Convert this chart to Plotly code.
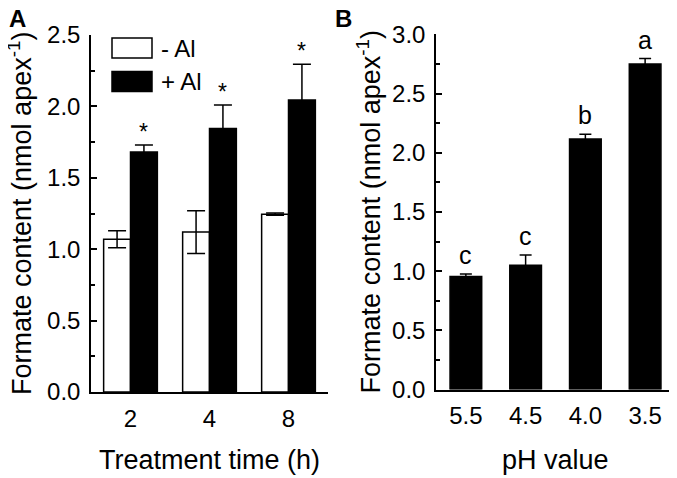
import plotly.graph_objects as go

# Panel A data
times = ["2", "4", "8"]
minus_al = [1.07, 1.12, 1.245]
minus_al_err = [0.06, 0.15, 0.008]
plus_al = [1.68, 1.845, 2.045]
plus_al_err = [0.05, 0.165, 0.25]
stars = ["*", "*", "*"]

# Panel B data
ph = ["5.5", "4.5", "4.0", "3.5"]
ph_vals = [0.955, 1.05, 2.115, 2.75]
ph_err = [0.02, 0.085, 0.04, 0.045]
letters = ["c", "c", "b", "a"]

ytitle = "Formate content (nmol apex<sup>-1</sup>)"
xtitle_a = "Treatment time (h)"
xtitle_b = "pH value"

FONT = "Arial, Liberation Sans, sans-serif"
PAGE_OFF = 8            # default body margin of the html page
W, H = 677 - PAGE_OFF, 478 - PAGE_OFF
BARGAP_A = 0.32
BARGAP_B = 0.47

# pixel layout of the two panels (screen coordinates)
A_L, A_R, A_T, A_B = 91, 328, 35, 392
B_L, B_R, B_T, B_B = 436, 675, 34.3, 389.5


def px(xs):
    return (xs - PAGE_OFF) / W


def py(ys):
    return 1 - (ys - PAGE_OFF) / H


fig = go.Figure()

fig.add_trace(go.Bar(
    x=times, y=minus_al, name="- Al", xaxis="x", yaxis="y",
    marker=dict(color="white", line=dict(color="black", width=1.5)),
    error_y=dict(type="data", array=minus_al_err, color="black", thickness=1.5, width=9),
    showlegend=False,
))
fig.add_trace(go.Bar(
    x=times, y=plus_al, name="+ Al", xaxis="x", yaxis="y",
    marker=dict(color="black", line=dict(color="black", width=1.5)),
    error_y=dict(type="data", array=plus_al_err, color="black", thickness=1.5, width=9),
    showlegend=False,
))
fig.add_trace(go.Bar(
    x=ph, y=ph_vals, xaxis="x2", yaxis="y2",
    marker=dict(color="black", line=dict(color="black", width=1.5)),
    error_y=dict(type="data", array=ph_err, color="black", thickness=1.5, width=6),
    showlegend=False, width=1 - BARGAP_B,
))

annotations = []
off = (1 - BARGAP_A) / 4
for i, (v, e, s) in enumerate(zip(plus_al, plus_al_err, stars)):
    annotations.append(dict(x=i + off, y=v + e, xref="x", yref="y", text=s,
                            showarrow=False, yanchor="bottom", yshift=-2,
                            font=dict(family=FONT, size=23, color="black")))
for i, (v, e, s) in enumerate(zip(ph_vals, ph_err, letters)):
    annotations.append(dict(x=i, y=v + e, xref="x2", yref="y2", text=s,
                            showarrow=False, yanchor="bottom", yshift=3,
                            font=dict(family=FONT, size=25, color="black")))

# panel labels
annotations.append(dict(x=px(17), y=py(18.5), xref="paper", yref="paper", text="<b>A</b>",
                        showarrow=False, xanchor="center", yanchor="middle",
                        font=dict(family=FONT, size=24, color="black")))
annotations.append(dict(x=px(343), y=py(18.5), xref="paper", yref="paper", text="<b>B</b>",
                        showarrow=False, xanchor="center", yanchor="middle",
                        font=dict(family=FONT, size=24, color="black")))

# axis titles
annotations.append(dict(x=px(19.5), y=py((A_T + A_B) / 2), xref="paper", yref="paper",
                        text=ytitle, textangle=-90, showarrow=False,
                        xanchor="center", yanchor="middle",
                        font=dict(family=FONT, size=27, color="black")))
annotations.append(dict(x=px(368.5), y=py((B_T + B_B) / 2), xref="paper", yref="paper",
                        text=ytitle, textangle=-90, showarrow=False,
                        xanchor="center", yanchor="middle",
                        font=dict(family=FONT, size=27, color="black")))
annotations.append(dict(x=px((A_L + A_R) / 2), y=py(460), xref="paper", yref="paper",
                        text=xtitle_a, showarrow=False, xanchor="center", yanchor="middle",
                        font=dict(family=FONT, size=27, color="black")))
annotations.append(dict(x=px((B_L + B_R) / 2), y=py(460), xref="paper", yref="paper",
                        text=xtitle_b, showarrow=False, xanchor="center", yanchor="middle",
                        font=dict(family=FONT, size=27, color="black")))

# legend (drawn manually)
legend_items = [("- Al", "white", 48), ("+ Al", "black", 81.5)]
shapes = []
for label, col, yc in legend_items:
    shapes.append(dict(type="rect", xref="paper", yref="paper",
                       x0=px(112), x1=px(152), y0=py(yc - 10), y1=py(yc + 10),
                       fillcolor=col, line=dict(color="black", width=1.5)))
    annotations.append(dict(x=px(159), y=py(yc), xref="paper", yref="paper", text=label,
                            showarrow=False, xanchor="left", yanchor="middle",
                            font=dict(family=FONT, size=24, color="black")))

common_y = dict(showline=True, linecolor="black", linewidth=1.5, ticks="inside", ticklen=6,
                tickwidth=1.5, tickcolor="black", showgrid=False, zeroline=False,
                automargin=False, ticklabelstandoff=4,
                tickfont=dict(family=FONT, size=24, color="black"),
                minor=dict(ticks="inside", ticklen=4, tickwidth=1.5, tickcolor="black",
                           showgrid=False))
common_x = dict(type="category", showline=True, linecolor="black", linewidth=1.5, ticks="",
                showgrid=False, zeroline=False, automargin=False, ticklabelstandoff=4,
                tickfont=dict(family=FONT, size=24, color="black"))

fig.update_layout(
    template="none",
    width=W, height=H,
    margin=dict(l=0, r=0, t=0, b=0, pad=0),
    paper_bgcolor="white", plot_bgcolor="white",
    barmode="group", bargap=BARGAP_A, bargroupgap=0,
    showlegend=False,
    xaxis=dict(domain=[px(A_L), px(A_R)], anchor="y", range=[-0.5, 2.5], **common_x),
    yaxis=dict(domain=[py(A_B), py(A_T)], anchor="x", range=[0, 2.5], dtick=0.5,
               tickformat=".1f", **common_y),
    xaxis2=dict(domain=[px(B_L), px(B_R)], anchor="y2", range=[-0.5, 3.5], **common_x),
    yaxis2=dict(domain=[py(B_B), py(B_T)], anchor="x2", range=[0, 3.0], dtick=0.5,
                tickformat=".1f", **common_y),
    annotations=annotations,
    shapes=shapes,
)
fig.update_yaxes(minor_dtick=0.25)

fig.write_html("out.html")
